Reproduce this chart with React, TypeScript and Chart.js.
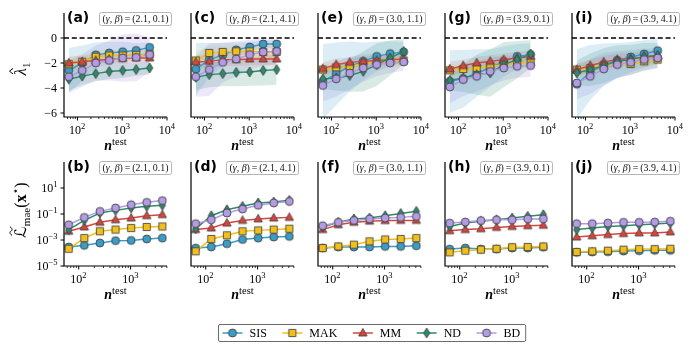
import React, { useEffect, useRef } from 'react';
import { Chart, registerables } from 'chart.js';

Chart.register(...registerables);

// ------------------------------------------------------------------ data
const N_TEST = [64, 128, 256, 512, 1024, 2048, 4096];
const METHODS = ['SIS', 'MAK', 'MM', 'ND', 'BD'];
const COLORS = ['#3b9cc6', '#f0bf1c', '#d8453d', '#2d8a6d', '#b39ce4'];
const BAND_COLORS = [
  'rgba(59,156,198,0.18)',
  'rgba(240,191,28,0.16)',
  'rgba(216,69,61,0.13)',
  'rgba(45,138,109,0.18)',
  'rgba(179,156,228,0.24)',
];
const MARKERS = ['circle', 'square', 'triangle', 'thin_diamond', 'circle'];
const PARAMS = ['(2.1, 0.1)', '(2.1, 4.1)', '(3.0, 1.1)', '(3.9, 0.1)', '(3.9, 4.1)'];
const TOP_TAGS = ['(a)', '(c)', '(e)', '(g)', '(i)'];
const BOTTOM_TAGS = ['(b)', '(d)', '(f)', '(h)', '(j)'];

const X_TICKS_TOP = [100, 1000, 10000];
const X_TICKS_BOTTOM = [100, 1000];
const Y_TICKS_TOP = [0, -2, -4, -6];
const Y_TICKS_BOTTOM = [1e1, 1e-1, 1e-3, 1e-5];
const X_RANGE_TOP = [50.1, 10000];
const X_RANGE_BOTTOM = [52, 5035];
const Y_RANGE_TOP = [-6.32, 2.0];
const Y_RANGE_BOTTOM = [1e-5, 1e3];

// top row: lambda_1 estimates (rows: SIS, MAK, MM, ND, BD)
const LAMBDA_A = [
  [-2.6, -2.0, -1.35, -1.2, -1.1, -1.0, -0.75],
  [-2.1, -1.9, -1.5, -1.4, -1.4, -1.35, -1.3],
  [-2.0, -1.9, -1.8, -1.7, -1.65, -1.6, -1.6],
  [-3.3, -3.05, -2.85, -2.68, -2.6, -2.52, -2.4],
  [-3.1, -2.6, -2.0, -1.8, -1.6, -1.55, -1.33],
];
const LAMBDA_A_SD = [
  [1.8, 1.4, 1.0, 0.9, 0.8, 0.6, 0.4],
  [0.6, 0.5, 0.5, 0.5, 0.4, 0.4, 0.4],
  [0.5, 0.5, 0.4, 0.4, 0.4, 0.4, 0.4],
  [0.9, 0.7, 0.6, 0.6, 0.6, 0.5, 0.5],
  [1.3, 1.3, 1.4, 1.6, 1.9, 1.9, 1.4],
];
const LAMBDA_C = [
  [-2.5, -1.75, -1.35, -0.95, -0.72, -0.48, -0.48],
  [-1.8, -1.2, -1.12, -1.07, -1.07, -1.12, -1.12],
  [-1.92, -1.87, -1.73, -1.73, -1.68, -1.68, -1.68],
  [-3.15, -2.93, -2.85, -2.75, -2.72, -2.6, -2.53],
  [-3.1, -2.53, -1.95, -1.68, -1.33, -1.12, -1.07],
];
const LAMBDA_C_SD = [
  [2.1, 1.35, 0.95, 0.6, 0.4, 0.3, 0.3],
  [0.7, 0.6, 0.5, 0.5, 0.5, 0.5, 0.5],
  [0.5, 0.5, 0.5, 0.5, 0.5, 0.5, 0.5],
  [1.0, 1.0, 1.0, 1.1, 1.1, 1.2, 1.2],
  [1.6, 2.1, 1.6, 1.4, 1.2, 1.1, 1.0],
];
const LAMBDA_E = [
  [-3.5, -2.85, -2.28, -1.87, -1.47, -1.25, -1.12],
  [-2.53, -2.35, -2.27, -2.05, -1.95, -1.87, -1.8],
  [-2.45, -2.13, -1.95, -1.87, -1.8, -1.73, -1.68],
  [-3.27, -3.2, -3.0, -2.67, -2.13, -1.6, -1.07],
  [-3.8, -3.27, -2.8, -2.4, -2.13, -2.0, -1.92],
];
const LAMBDA_E_SD = [
  [3.0, 2.5, 2.0, 1.5, 1.2, 1.0, 0.8],
  [0.5, 0.5, 0.4, 0.4, 0.4, 0.4, 0.4],
  [0.5, 0.5, 0.4, 0.4, 0.4, 0.4, 0.4],
  [0.8, 1.0, 1.3, 1.6, 1.7, 1.4, 1.0],
  [1.3, 1.4, 1.3, 1.1, 0.9, 0.8, 0.7],
];
const LAMBDA_G = [
  [-3.47, -3.25, -2.8, -2.4, -1.87, -1.47, -1.33],
  [-2.59, -2.48, -2.4, -2.27, -2.13, -2.0, -1.95],
  [-2.48, -2.21, -2.0, -1.87, -1.73, -1.6, -1.47],
  [-3.39, -3.2, -2.93, -2.8, -2.13, -1.73, -1.28],
  [-3.92, -3.33, -3.07, -2.67, -2.4, -2.27, -2.21],
];
const LAMBDA_G_SD = [
  [2.5, 2.3, 1.9, 1.5, 1.2, 1.0, 0.9],
  [0.5, 0.5, 0.4, 0.4, 0.4, 0.4, 0.4],
  [0.6, 0.5, 0.5, 0.5, 0.5, 0.5, 0.5],
  [0.8, 1.1, 1.6, 1.9, 1.8, 1.5, 1.1],
  [1.3, 1.3, 1.2, 1.1, 1.0, 0.9, 0.9],
];
const LAMBDA_I = [
  [-3.7, -2.75, -2.13, -1.79, -1.52, -1.28, -1.01],
  [-2.53, -2.4, -2.21, -2.0, -2.08, -1.87, -1.73],
  [-2.53, -2.21, -1.92, -1.73, -1.65, -1.52, -1.47],
  [-2.8, -2.53, -2.21, -1.87, -1.73, -1.47, -1.39],
  [-3.6, -3.07, -2.48, -2.13, -1.95, -1.73, -1.6],
];
const LAMBDA_I_SD = [
  [2.8, 2.2, 1.7, 1.4, 1.2, 1.1, 1.0],
  [0.5, 0.5, 0.4, 0.4, 0.4, 0.4, 0.4],
  [0.5, 0.5, 0.5, 0.5, 0.5, 0.5, 0.5],
  [1.0, 1.3, 1.4, 1.3, 1.2, 1.1, 1.0],
  [1.3, 1.4, 1.3, 1.1, 1.0, 0.9, 0.8],
];

// bottom row: MAE loss (rows: SIS, MAK, MM, ND, BD)
const LOSS_B = [
  [0.00029, 0.00039, 0.00059, 0.00089, 0.00093, 0.0012, 0.0014],
  [0.00021, 0.0014, 0.0047, 0.0063, 0.0083, 0.01, 0.011],
  [0.0047, 0.01, 0.023, 0.036, 0.049, 0.074, 0.089],
  [0.0063, 0.032, 0.12, 0.19, 0.29, 0.39, 0.47],
  [0.015, 0.055, 0.16, 0.29, 0.52, 0.79, 1.07],
];
const LOSS_D = [
  [0.00024, 0.00029, 0.00052, 0.0011, 0.0014, 0.0017, 0.0019],
  [0.000135, 0.0012, 0.0023, 0.0047, 0.0055, 0.0063, 0.0074],
  [0.0063, 0.0083, 0.02, 0.032, 0.042, 0.049, 0.055],
  [0.0074, 0.074, 0.21, 0.39, 0.71, 0.83, 1.12],
  [0.018, 0.036, 0.12, 0.24, 0.47, 0.71, 0.93],
];
const LOSS_F = [
  [0.00024, 0.00029, 0.00029, 0.00029, 0.00032, 0.00032, 0.00036],
  [0.00024, 0.00032, 0.00044, 0.00079, 0.0011, 0.0012, 0.0014],
  [0.0063, 0.015, 0.023, 0.028, 0.031, 0.032, 0.032],
  [0.01, 0.023, 0.042, 0.049, 0.074, 0.11, 0.16],
  [0.0126, 0.023, 0.032, 0.042, 0.049, 0.055, 0.066],
];
const LOSS_H = [
  [0.0002, 0.00024, 0.0002, 0.0002, 0.00024, 0.00024, 0.00028],
  [0.000112, 0.00015, 0.00018, 0.00021, 0.00028, 0.00029, 0.00032],
  [0.0052, 0.0063, 0.0074, 0.0093, 0.011, 0.0126, 0.0135],
  [0.011, 0.02, 0.028, 0.036, 0.049, 0.066, 0.089],
  [0.02, 0.024, 0.031, 0.036, 0.036, 0.042, 0.042],
];
const LOSS_J = [
  [0.000112, 0.00012, 0.000126, 0.00014, 0.00015, 0.00016, 0.00016],
  [0.00012, 0.000135, 0.00015, 0.00018, 0.0002, 0.0002, 0.00021],
  [0.0017, 0.0021, 0.0026, 0.0031, 0.0035, 0.0035, 0.0042],
  [0.0063, 0.0083, 0.011, 0.0126, 0.015, 0.017, 0.02],
  [0.018, 0.018, 0.02, 0.023, 0.023, 0.024, 0.028],
];

const TOP_VALUES = [LAMBDA_A, LAMBDA_C, LAMBDA_E, LAMBDA_G, LAMBDA_I];
const TOP_SD = [LAMBDA_A_SD, LAMBDA_C_SD, LAMBDA_E_SD, LAMBDA_G_SD, LAMBDA_I_SD];
const BOTTOM_VALUES = [LOSS_B, LOSS_D, LOSS_F, LOSS_H, LOSS_J];

// ------------------------------------------------------------------ layout
const FIG_W = 694;
const FIG_H = 351;
const SPINE_X0 = 64;
const COL_STEP = 127;
const PLOT_W = 103;
const PLOT_H = 104;
const PAD_L = 62;
const PAD_R = 16;
const CANVAS_W = PAD_L + PLOT_W + PAD_R;
const ROW_GEOM = [
  { canvasTop: 0, plotTop: 13, height: 155 },
  { canvasTop: 150, plotTop: 162, height: 155 },
];

const SERIF = '"Liberation Serif", "Times New Roman", "DejaVu Serif", serif';
const SCRIPT = '"DejaVu Serif", "DejaVu Sans", serif';
const SANS = '"DejaVu Sans", "Liberation Sans", sans-serif';
const EDGE = '#3f3f3f';

const PANELS: any[] = [];
for (let c = 0; c < 5; c++) {
  PANELS.push({ row: 0, col: c, tag: TOP_TAGS[c], params: PARAMS[c], values: TOP_VALUES[c], sd: TOP_SD[c] });
}
for (let c = 0; c < 5; c++) {
  PANELS.push({ row: 1, col: c, tag: BOTTOM_TAGS[c], params: PARAMS[c], values: BOTTOM_VALUES[c], sd: null });
}

// ------------------------------------------------------------------ helpers
function makeMarker(kind: string, color: string): HTMLCanvasElement {
  const c = document.createElement('canvas');
  c.width = 14;
  c.height = 14;
  const g = c.getContext('2d') as CanvasRenderingContext2D;
  g.fillStyle = color;
  g.strokeStyle = EDGE;
  g.lineWidth = 0.85;
  g.beginPath();
  const cx = 7;
  const cy = 7;
  if (kind === 'circle') g.arc(cx, cy, 4.0, 0, Math.PI * 2);
  else if (kind === 'square') g.rect(cx - 3.6, cy - 3.6, 7.2, 7.2);
  else if (kind === 'triangle') {
    g.moveTo(cx, cy - 4.6);
    g.lineTo(cx + 4.2, cy + 3.0);
    g.lineTo(cx - 4.2, cy + 3.0);
    g.closePath();
  } else {
    g.moveTo(cx, cy - 4.9);
    g.lineTo(cx + 3.1, cy);
    g.lineTo(cx, cy + 4.9);
    g.lineTo(cx - 3.1, cy);
    g.closePath();
  }
  g.fill();
  g.stroke();
  return c;
}

type Seg = { t: string; font: string; dy?: number };

function segWidth(ctx: CanvasRenderingContext2D, segs: Seg[]) {
  let w = 0;
  for (const s of segs) {
    ctx.font = s.font;
    w += ctx.measureText(s.t).width;
  }
  return w;
}

function drawSegs(ctx: CanvasRenderingContext2D, segs: Seg[], x: number, base: number) {
  let cx = x;
  const pos: number[] = [];
  for (const s of segs) {
    ctx.font = s.font;
    pos.push(cx);
    ctx.fillText(s.t, cx, base + (s.dy || 0));
    cx += ctx.measureText(s.t).width;
  }
  return pos;
}

function pow10Label(v: number) {
  const e = Math.round(Math.log10(v));
  return String(e).replace('-', '\u2212');
}

function draw10(ctx: CanvasRenderingContext2D, exp: string, x: number, base: number, align: string) {
  const segs: Seg[] = [
    { t: '10', font: `12px ${SERIF}` },
    { t: exp, font: `8.5px ${SERIF}`, dy: -5 },
  ];
  const w = segWidth(ctx, segs) + 0.5;
  const x0 = align === 'center' ? x - w / 2 : x - w;
  drawSegs(ctx, segs, x0, base);
}

function makeDecor(p: any) {
  const top = p.row === 0;
  return {
    id: 'decor',
    beforeDatasetsDraw(chart: any) {
      if (!top) return;
      const { ctx, chartArea: ca, scales } = chart;
      const y0 = scales.y.getPixelForValue(0);
      ctx.save();
      ctx.strokeStyle = '#000';
      ctx.lineWidth = 1.5;
      ctx.setLineDash([5, 2.8]);
      ctx.beginPath();
      ctx.moveTo(ca.left, y0);
      ctx.lineTo(ca.right, y0);
      ctx.stroke();
      ctx.restore();
    },
    afterDraw(chart: any) {
      const { ctx, chartArea: ca, scales } = chart;
      const xs = scales.x;
      const ys = scales.y;
      ctx.save();
      ctx.strokeStyle = '#000';
      ctx.fillStyle = '#000';
      ctx.textAlign = 'left';
      ctx.textBaseline = 'alphabetic';
      // spines
      ctx.lineWidth = 1.2;
      ctx.beginPath();
      ctx.moveTo(ca.left, ca.top);
      ctx.lineTo(ca.left, ca.bottom + 0.6);
      ctx.moveTo(ca.left - 0.6, ca.bottom);
      ctx.lineTo(ca.right, ca.bottom);
      ctx.stroke();
      // x ticks (major + minor)
      const majors = top ? X_TICKS_TOP : X_TICKS_BOTTOM;
      for (let e = 1; e <= 4; e++) {
        for (let m = 1; m <= 9; m++) {
          const v = m * Math.pow(10, e);
          if (v < xs.min || v > xs.max * 1.0001) continue;
          const px = xs.getPixelForValue(v);
          const major = m === 1;
          ctx.lineWidth = major ? 1 : 0.8;
          ctx.beginPath();
          ctx.moveTo(px, ca.bottom);
          ctx.lineTo(px, ca.bottom + (major ? 3.5 : 2));
          ctx.stroke();
        }
      }
      for (const v of majors) {
        draw10(ctx, pow10Label(v), xs.getPixelForValue(v), ca.bottom + 16.5, 'center');
      }
      // y ticks on first column only
      if (p.col === 0) {
        const yt = top ? Y_TICKS_TOP : Y_TICKS_BOTTOM;
        for (const v of yt) {
          const py = ys.getPixelForValue(v);
          ctx.lineWidth = 1;
          ctx.beginPath();
          ctx.moveTo(ca.left - 3.5, py);
          ctx.lineTo(ca.left, py);
          ctx.stroke();
          if (top) {
            ctx.font = `12px ${SERIF}`;
            ctx.textAlign = 'right';
            ctx.fillText(String(v).replace('-', '\u2212'), ca.left - 7, py + 4);
            ctx.textAlign = 'left';
          } else {
            draw10(ctx, pow10Label(v), ca.left - 6, py + 4, 'right');
          }
        }
        // y label
        ctx.save();
        const cy = top ? (ca.top + ca.bottom) / 2 + 4 : (ca.top + ca.bottom) / 2 - 4;
        ctx.translate(18, cy);
        ctx.rotate(-Math.PI / 2);
        if (top) {
          const segs: Seg[] = [
            { t: 'λ', font: `italic 17px ${SERIF}` },
            { t: '1', font: `11px ${SERIF}`, dy: 3.5 },
          ];
          const w = segWidth(ctx, segs);
          const pos = drawSegs(ctx, segs, -w / 2, 6);
          ctx.font = `italic 17px ${SERIF}`;
          const wl = ctx.measureText('λ').width;
          ctx.lineWidth = 1;
          ctx.beginPath();
          ctx.moveTo(pos[0] + wl * 0.2, 6 - 13);
          ctx.lineTo(pos[0] + wl * 0.58, 6 - 16.5);
          ctx.lineTo(pos[0] + wl * 0.96, 6 - 13);
          ctx.stroke();
        } else {
          const segs: Seg[] = [
            { t: '\u2112', font: `16px ${SCRIPT}` },
            { t: 'mae', font: `11px ${SERIF}`, dy: 3.5 },
            { t: '(', font: `16px ${SERIF}` },
            { t: 'x', font: `bold 16px ${SERIF}` },
            { t: '\u22c6', font: `11px ${SCRIPT}`, dy: -7 },
            { t: ')', font: `16px ${SERIF}` },
          ];
          const w = segWidth(ctx, segs);
          const pos = drawSegs(ctx, segs, -w / 2, 6);
          ctx.font = `16px ${SCRIPT}`;
          const wl = ctx.measureText('\u2112').width;
          const tx = pos[0] + wl * 0.2;
          const tw = wl * 0.75;
          const ty = 6 - 15;
          ctx.lineWidth = 1;
          ctx.beginPath();
          ctx.moveTo(tx, ty + 1);
          ctx.bezierCurveTo(tx + tw * 0.25, ty - 2.2, tx + tw * 0.45, ty - 1, tx + tw * 0.5, ty);
          ctx.bezierCurveTo(tx + tw * 0.55, ty + 1, tx + tw * 0.75, ty + 2.2, tx + tw, ty - 1);
          ctx.stroke();
        }
        ctx.restore();
      }
      // x label  n^test
      {
        const segs: Seg[] = [
          { t: 'n', font: `italic bold 14px ${SERIF}` },
          { t: 'test', font: `10.5px ${SERIF}`, dy: -5.5 },
        ];
        const w = segWidth(ctx, segs);
        drawSegs(ctx, segs, (ca.left + ca.right) / 2 - w / 2, ca.bottom + 33);
      }
      // panel tag
      ctx.font = `bold 14px ${SANS}`;
      ctx.fillText(p.tag, ca.left + 3, ca.top + 8.5);
      // parameter box
      {
        const bx = ca.left + 35.5;
        const bw = 72;
        const by = ca.top - 0.5;
        const bh = 13;
        let fs = 10;
        const mk = (f: number): Seg[] => [
          { t: '(', font: `${f}px ${SERIF}` },
          { t: 'γ', font: `italic ${f}px ${SERIF}` },
          { t: ', ', font: `${f}px ${SERIF}` },
          { t: 'β', font: `italic ${f}px ${SERIF}` },
          { t: ')', font: `${f}px ${SERIF}` },
          { t: '\u2009=\u2009', font: `${f}px ${SERIF}` },
          { t: p.params, font: `${f}px ${SERIF}` },
        ];
        let segs = mk(fs);
        const w0 = segWidth(ctx, segs);
        if (w0 > 66) {
          fs = (fs * 66) / w0;
          segs = mk(fs);
        }
        const w = segWidth(ctx, segs);
        ctx.fillStyle = '#fff';
        ctx.strokeStyle = '#b5b5b5';
        ctx.lineWidth = 1;
        ctx.beginPath();
        ctx.roundRect(bx, by, bw, bh, 2);
        ctx.fill();
        ctx.stroke();
        ctx.fillStyle = '#111';
        drawSegs(ctx, segs, bx + bw / 2 - w / 2, by + 9.6);
      }
      ctx.restore();
    },
  };
}

function buildConfig(p: any, markers: HTMLCanvasElement[]) {
  const top = p.row === 0;
  const g = ROW_GEOM[p.row];
  const padTop = g.plotTop - g.canvasTop;
  const datasets: any[] = [];
  if (p.sd) {
    METHODS.forEach((m, i) => {
      datasets.push({
        label: m + ' low',
        data: N_TEST.map((n, j) => ({ x: n, y: p.values[i][j] - p.sd[i][j] })),
        borderColor: 'transparent',
        backgroundColor: 'transparent',
        borderWidth: 0,
        pointRadius: 0,
        fill: false,
        order: 20,
      });
      datasets.push({
        label: m + ' high',
        data: N_TEST.map((n, j) => ({ x: n, y: p.values[i][j] + p.sd[i][j] })),
        borderColor: 'transparent',
        backgroundColor: BAND_COLORS[i],
        borderWidth: 0,
        pointRadius: 0,
        fill: '-1',
        order: 20,
      });
    });
  }
  METHODS.forEach((m, i) => {
    datasets.push({
      label: m,
      data: N_TEST.map((n, j) => ({ x: n, y: p.values[i][j] })),
      borderColor: COLORS[i],
      backgroundColor: COLORS[i],
      borderWidth: 1.5,
      pointStyle: markers[i],
      pointRadius: 4.5,
      pointHoverRadius: 4.5,
      fill: false,
      tension: 0,
      order: METHODS.length - 1 - i,
    });
  });
  const xr = top ? X_RANGE_TOP : X_RANGE_BOTTOM;
  return {
    type: 'line',
    data: { datasets },
    options: {
      responsive: false,
      animation: false,
      events: [],
      layout: {
        padding: { left: PAD_L, right: PAD_R, top: padTop, bottom: g.height - padTop - PLOT_H },
      },
      plugins: {
        legend: { display: false },
        tooltip: { enabled: false },
        filler: { drawTime: 'beforeDatasetsDraw', propagate: false },
      },
      scales: {
        x: { type: 'logarithmic', min: xr[0], max: xr[1], display: false, bounds: 'data' },
        y: top
          ? { type: 'linear', min: Y_RANGE_TOP[0], max: Y_RANGE_TOP[1], display: false, bounds: 'data' }
          : { type: 'logarithmic', min: Y_RANGE_BOTTOM[0], max: Y_RANGE_BOTTOM[1], display: false, bounds: 'data' },
      },
    },
    plugins: [makeDecor(p)],
  };
}

function legendConfig(markers: HTMLCanvasElement[]) {
  const plugin = {
    id: 'figLegend',
    afterDraw(chart: any) {
      const ctx = chart.ctx as CanvasRenderingContext2D;
      const items = chart.data.datasets;
      ctx.save();
      ctx.font = `12px ${SERIF}`;
      const lineLen = 20;
      const textGap = 7;
      const gap = 15.5;
      const widths = items.map((d: any) => lineLen + textGap + ctx.measureText(d.label).width);
      const total = widths.reduce((a: number, b: number) => a + b, 0) + gap * (items.length - 1);
      const boxW = total + 9.5;
      const cxFig = 371.5;
      const left = Math.round(cxFig - boxW / 2) + 0.5;
      const top = 24.5;
      const h = 17;
      ctx.strokeStyle = '#6a6a6a';
      ctx.lineWidth = 1;
      ctx.fillStyle = '#fff';
      ctx.beginPath();
      ctx.roundRect(left, top, boxW, h, 1.5);
      ctx.fill();
      ctx.stroke();
      const cy = top + h / 2;
      let x = left + 4;
      items.forEach((d: any, i: number) => {
        ctx.strokeStyle = d.borderColor;
        ctx.lineWidth = 1.5;
        ctx.beginPath();
        ctx.moveTo(x, cy);
        ctx.lineTo(x + lineLen, cy);
        ctx.stroke();
        const mk = markers[i];
        ctx.drawImage(mk, x + lineLen / 2 - mk.width / 2, cy - mk.height / 2);
        ctx.fillStyle = '#000';
        ctx.font = `12px ${SERIF}`;
        ctx.textBaseline = 'alphabetic';
        ctx.fillText(d.label, x + lineLen + textGap, cy + 4);
        x += widths[i] + gap;
      });
      ctx.restore();
    },
  };
  return {
    type: 'line',
    data: {
      labels: [],
      datasets: METHODS.map((m, i) => ({ label: m, data: [], borderColor: COLORS[i], backgroundColor: COLORS[i] })),
    },
    options: {
      responsive: false,
      animation: false,
      events: [],
      plugins: { legend: { display: false }, tooltip: { enabled: false } },
      scales: { x: { display: false }, y: { display: false } },
    },
    plugins: [plugin],
  };
}

export default function App() {
  const refs = useRef<(HTMLCanvasElement | null)[]>([]);

  useEffect(() => {
    const markers = MARKERS.map((k, i) => makeMarker(k, COLORS[i]));
    const charts: Chart[] = [];
    PANELS.forEach((p, idx) => {
      const cv = refs.current[idx];
      if (cv) charts.push(new Chart(cv, buildConfig(p, markers) as any));
    });
    const lg = refs.current[PANELS.length];
    if (lg) charts.push(new Chart(lg, legendConfig(markers) as any));
    return () => charts.forEach((c) => c.destroy());
  }, []);

  return (
    <div
      style={{
        position: 'absolute',
        left: 0,
        top: 0,
        width: FIG_W,
        height: FIG_H,
        background: '#fff',
        overflow: 'hidden',
      }}
    >
      {PANELS.map((p, i) => (
        <canvas
          key={i}
          ref={(el) => {
            refs.current[i] = el;
          }}
          width={CANVAS_W}
          height={ROW_GEOM[p.row].height}
          style={{
            position: 'absolute',
            left: SPINE_X0 + p.col * COL_STEP - PAD_L,
            top: ROW_GEOM[p.row].canvasTop,
          }}
        />
      ))}
      <canvas
        ref={(el) => {
          refs.current[PANELS.length] = el;
        }}
        width={FIG_W}
        height={51}
        style={{ position: 'absolute', left: 0, top: 300 }}
      />
    </div>
  );
}
